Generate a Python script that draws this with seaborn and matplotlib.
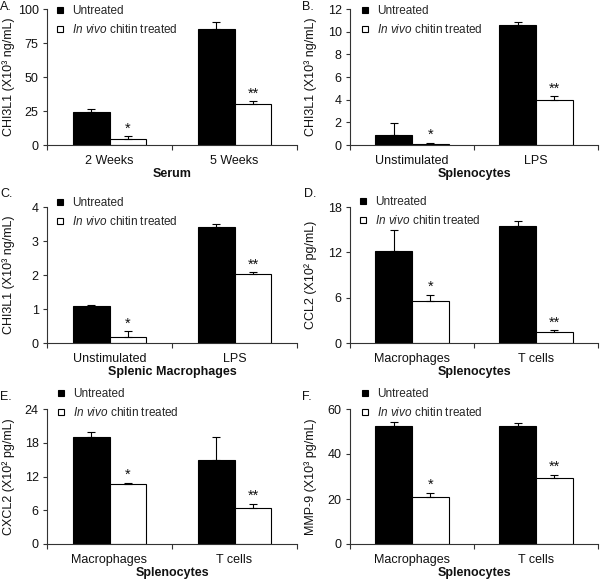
import matplotlib
matplotlib.use('Agg')
import matplotlib.pyplot as plt
import seaborn as sns
import pandas as pd
import numpy as np
from matplotlib.lines import Line2D

sns.set_theme(style='ticks')
plt.rcParams['font.family'] = ['Liberation Sans', 'DejaVu Sans']
plt.rcParams['mathtext.fontset'] = 'custom'
plt.rcParams['mathtext.rm'] = 'Liberation Sans'
plt.rcParams['mathtext.it'] = 'Liberation Sans:italic'

groups = ['Untreated', 'In vivo chitin treated']
legend_labels = ['Untreated', r'$\it{In\ vivo}$ chitin treated']

# Panel A - Serum
a_cats = ['2 Weeks', '5 Weeks']
a_untreated = [24.5, 85.3]
a_untreated_err = [1.7, 4.9]
a_treated = [4.4, 30.4]
a_treated_err = [2.2, 1.7]
a_stars = ['*', '**']
a_yticks = [0, 25, 50, 75, 100]

# Panel B - Splenocytes
b_cats = ['Unstimulated', 'LPS']
b_untreated = [0.88, 10.59]
b_untreated_err = [1.09, 0.26]
b_treated = [0.09, 3.97]
b_treated_err = [0.11, 0.32]
b_stars = ['*', '**']
b_yticks = [0, 2, 4, 6, 8, 10, 12]

# Panel C - Splenic Macrophages
c_cats = ['Unstimulated', 'LPS']
c_untreated = [1.08, 3.41]
c_untreated_err = [0.04, 0.10]
c_treated = [0.18, 2.04]
c_treated_err = [0.17, 0.04]
c_stars = ['*', '**']
c_yticks = [0, 1, 2, 3, 4]

# Panel D - Splenocytes CCL2
d_cats = ['Macrophages', 'T cells']
d_untreated = [12.17, 15.48]
d_untreated_err = [2.78, 0.67]
d_treated = [5.56, 1.41]
d_treated_err = [0.84, 0.31]
d_stars = ['*', '**']
d_yticks = [0, 6, 12, 18]

# Panel E - Splenocytes CXCL2
e_cats = ['Macrophages', 'T cells']
e_untreated = [19.06, 14.88]
e_untreated_err = [0.88, 4.18]
e_treated = [10.65, 6.35]
e_treated_err = [0.23, 0.83]
e_stars = ['*', '**']
e_yticks = [0, 6, 12, 18, 24]

# Panel F - Splenocytes MMP-9
f_cats = ['Macrophages', 'T cells']
f_untreated = [52.6, 52.6]
f_untreated_err = [1.7, 1.4]
f_treated = [21.0, 29.4]
f_treated_err = [1.8, 1.3]
f_stars = ['*', '**']
f_yticks = [0, 20, 40, 60]

W, H = 600, 581
fig = plt.figure(figsize=(W / 100, H / 100), dpi=100)

panels = [
    dict(letter='A.', cats=a_cats, u=a_untreated, ue=a_untreated_err, t=a_treated, te=a_treated_err,
         stars=a_stars, yticks=a_yticks, ylabel='CHI3L1 (X10³ ng/mL)', xlabel='Serum',
         box=(47, 9, 297, 145), leg=(54, 5), ylab_x=15, let=(0, 1)),
    dict(letter='B.', cats=b_cats, u=b_untreated, ue=b_untreated_err, t=b_treated, te=b_treated_err,
         stars=b_stars, yticks=b_yticks, ylabel='CHI3L1 (X10³ ng/mL)', xlabel='Splenocytes',
         box=(350, 9, 598, 145), leg=(359, 5), ylab_x=317, let=(302, 1)),
    dict(letter='C.', cats=c_cats, u=c_untreated, ue=c_untreated_err, t=c_treated, te=c_treated_err,
         stars=c_stars, yticks=c_yticks, ylabel='CHI3L1 (X10³ ng/mL)', xlabel='Splenic Macrophages',
         box=(47, 207, 297, 343), leg=(54, 197), ylab_x=15, let=(0, 188)),
    dict(letter='D.', cats=d_cats, u=d_untreated, ue=d_untreated_err, t=d_treated, te=d_treated_err,
         stars=d_stars, yticks=d_yticks, ylabel='CCL2 (X10² pg/mL)', xlabel='Splenocytes',
         box=(350, 207, 598, 343), leg=(357, 196), ylab_x=317, let=(304, 188)),
    dict(letter='E.', cats=e_cats, u=e_untreated, ue=e_untreated_err, t=e_treated, te=e_treated_err,
         stars=e_stars, yticks=e_yticks, ylabel='CXCL2 (X10² pg/mL)', xlabel='Splenocytes',
         box=(47, 409, 297, 544), leg=(55, 388), ylab_x=15, let=(0, 391)),
    dict(letter='F.', cats=f_cats, u=f_untreated, ue=f_untreated_err, t=f_treated, te=f_treated_err,
         stars=f_stars, yticks=f_yticks, ylabel='MMP-9 (X10³ pg/mL)', xlabel='Splenocytes',
         box=(350, 409, 598, 544), leg=(359, 388), ylab_x=317, let=(302, 391)),
]

handles = [
    Line2D([], [], linestyle='none', marker='s', markersize=4.5, markerfacecolor='black',
           markeredgecolor='black', markeredgewidth=0.8),
    Line2D([], [], linestyle='none', marker='s', markersize=4.5, markerfacecolor='white',
           markeredgecolor='black', markeredgewidth=0.8),
]

for p in panels:
    x0, y0, x1, y1 = p['box']
    ax = fig.add_axes([x0 / W, 1 - y1 / H, (x1 - x0) / W, (y1 - y0) / H])
    df = pd.DataFrame({
        'cat': list(p['cats']) * 2,
        'group': [groups[0]] * len(p['cats']) + [groups[1]] * len(p['cats']),
        'value': list(p['u']) + list(p['t']),
    })
    sns.barplot(data=df, x='cat', y='value', hue='group', order=p['cats'], hue_order=groups,
                palette=['black', 'white'], edgecolor='black', linewidth=0.8, width=0.59,
                saturation=1, errorbar=None, legend=False, ax=ax)
    errs = [p['ue'], p['te']]
    bar_containers = list(ax.containers)
    for gi, cont in enumerate(bar_containers):
        xs = [b.get_x() + b.get_width() / 2 for b in cont]
        tops = [b.get_height() for b in cont]
        e = errs[gi]
        ax.errorbar(xs, tops, yerr=[np.zeros(len(e)), e], fmt='none', ecolor='black',
                    elinewidth=0.8, capsize=3, capthick=0.8)
        if gi == 1:
            for x, t, ee, s in zip(xs, tops, e, p['stars']):
                ax.annotate(s, (x, t + ee), xytext=(0, 0.5), textcoords='offset points',
                            ha='center', va='bottom', fontsize=10.5, color='#111111')
    ax.set_xlim(-0.5, len(p['cats']) - 0.5)
    ax.set_ylim(p['yticks'][0], p['yticks'][-1])
    ax.set_yticks(p['yticks'])
    ax.set_xticks([-0.5, 0.5, 1.5])
    ax.set_xticklabels(['', '', ''])
    ax.set_xticks([0, 1], minor=True)
    ax.set_xticklabels(p['cats'], minor=True)
    ax.tick_params(axis='x', which='major', direction='out', length=3.5, width=0.8, color='#333333')
    ax.tick_params(axis='x', which='minor', length=0, pad=7.5, labelsize=9, labelcolor='#111111')
    ax.tick_params(axis='y', direction='out', length=3, width=0.8, pad=3, labelsize=9,
                   labelcolor='#111111', color='#333333')
    for s in ['top', 'right']:
        ax.spines[s].set_visible(False)
    for s in ['left', 'bottom']:
        ax.spines[s].set_linewidth(0.8)
        ax.spines[s].set_color('#333333')
    ax.set_xlabel(p['xlabel'], fontsize=9, fontweight='bold', labelpad=0.5, color='#111111')
    ax.set_ylabel(p['ylabel'], fontsize=9, color='#111111')
    ax.yaxis.set_label_coords((p['ylab_x'] - x0) / (x1 - x0), 0.5)
    lx, ly = p['leg']
    ax.legend(handles, legend_labels, loc='upper left', bbox_to_anchor=(lx / W, 1 - ly / H),
              bbox_transform=fig.transFigure, frameon=False, borderpad=0, borderaxespad=0,
              handlelength=1.1, handletextpad=0.4, labelspacing=0.5, fontsize=8.5)
    tx, ty = p['let']
    fig.text(tx / W, 1 - ty / H, p['letter'], ha='left', va='top', fontsize=9, color='#111111')

fig.savefig('out.png', dpi=100, facecolor='white')
